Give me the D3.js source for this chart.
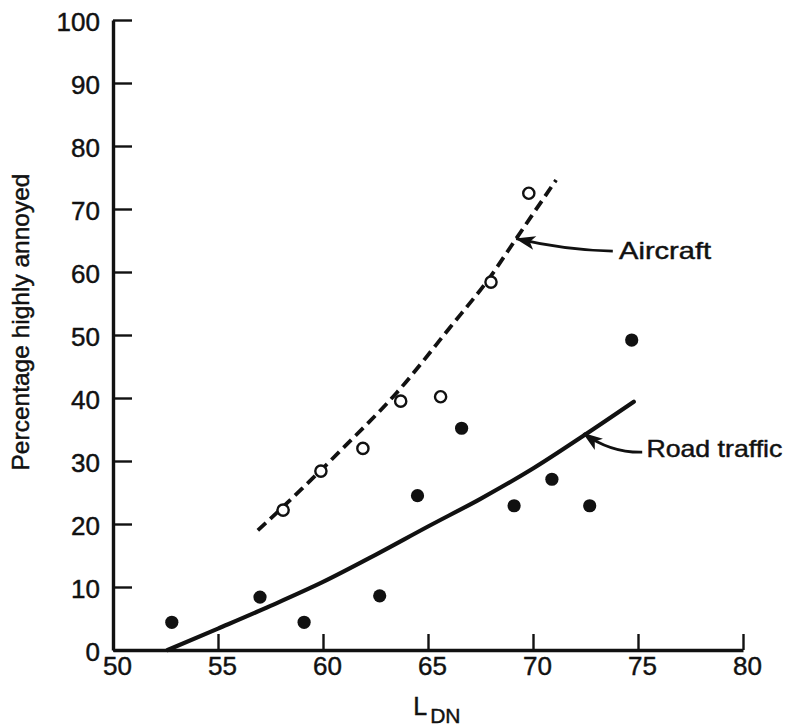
<!DOCTYPE html>
<html>
<head>
<meta charset="utf-8">
<script src="https://cdn.jsdelivr.net/npm/d3@7"></script>
<style>
  body { margin: 0; background: #fff; }
  svg text { font-family: "Liberation Sans", Arial, sans-serif; fill: #111; stroke: #111; stroke-width: 0.45px; }
</style>
</head>
<body>
<svg id="chart" width="785" height="727"></svg>
<script>
// aircraft survey points (open circles)
const aircraftX = [58.1, 59.9, 61.9, 63.7, 65.6, 68.0, 69.8];
const aircraftY = [22.2, 28.4, 32.0, 39.5, 40.2, 58.4, 72.5];

// road traffic survey points (filled dots)
const roadX = [52.8, 57.0, 59.1, 62.7, 64.5, 66.6, 69.1, 70.9, 72.7, 74.7];
const roadY = [4.4, 8.4, 4.4, 8.6, 24.5, 35.2, 22.9, 27.1, 22.9, 49.2];

// fitted curves
const aircraftFitX = [56.9, 59.0, 61.0, 63.5, 66.0, 68.0, 69.2, 71.1];
const aircraftFitY = [19.0, 25.6, 32.2, 40.8, 51.0, 59.4, 65.3, 74.6];
const roadFitX = [52.6, 55.0, 57.5, 60.0, 62.5, 65.0, 67.5, 70.0, 72.4, 74.8];
const roadFitY = [0.0, 3.4, 7.0, 10.8, 15.1, 19.6, 24.0, 28.8, 34.0, 39.4];

// axes
const xTicks = [50, 55, 60, 65, 70, 75, 80];
const yTicks = [0, 10, 20, 30, 40, 50, 60, 70, 80, 90, 100];

// callouts: tip on the curve, tail, label start
const notes = [
  { text: "Aircraft", tip: [69.2, 65.3], tail: [73.8, 63.3], ctrl: [71.5, 63.5], at: [74.1, 62.0], len: 92 },
  { text: "Road traffic", tip: [72.4, 34.4], tail: [75.2, 31.4], ctrl: [73.7, 31.3], at: [75.4, 30.6], len: 136 }
];

const svg = d3.select("#chart");

const x = d3.scaleLinear().domain([50, 80]).range([113, 743]);
const y = d3.scaleLinear().domain([0, 100]).range([650, 20]);

// y axis
const yAxis = svg.append("g")
  .attr("transform", `translate(${x(50)},0)`)
  .call(d3.axisLeft(y).tickValues(yTicks).tickSize(-19).tickSizeOuter(0).tickPadding(13));
yAxis.select(".domain").attr("stroke", "#111").attr("stroke-width", 3.4);
yAxis.selectAll(".tick line").attr("stroke", "#111").attr("stroke-width", 2.4);
yAxis.selectAll(".tick text")
  .style("font-size", "26px")
  .attr("dy", "0.42em")
  .attr("fill", "#111");

// x axis
const xAxis = svg.append("g")
  .attr("transform", `translate(0,${y(0)})`)
  .call(d3.axisBottom(x).tickValues(xTicks).tickSize(-16).tickSizeOuter(0).tickPadding(7));
xAxis.select(".domain").attr("stroke", "#111").attr("stroke-width", 3.4);
xAxis.selectAll(".tick line").attr("stroke", "#111").attr("stroke-width", 2.4);
xAxis.selectAll(".tick text")
  .style("font-size", "26px")
  .attr("dx", 4)
  .attr("fill", "#111");

// axis titles
svg.append("text")
  .attr("transform", `translate(29,${(y(0) + y(100)) / 2 - 13}) rotate(-90)`)
  .attr("text-anchor", "middle")
  .style("font-size", "24.5px")
  .text("Percentage highly annoyed");

const xt = svg.append("text")
  .attr("x", x(64.3))
  .attr("y", 715)
  .style("font-size", "25px")
  .text("L");
xt.append("tspan")
  .attr("dx", 3)
  .attr("dy", 8)
  .style("font-size", "21px")
  .text("DN");

// fitted curves
const line = d3.line()
  .x(d => x(d[0]))
  .y(d => y(d[1]))
  .curve(d3.curveMonotoneX);

svg.append("path")
  .datum(roadFitX.map((v, i) => [v, roadFitY[i]]))
  .attr("d", line)
  .attr("fill", "none")
  .attr("stroke", "#111")
  .attr("stroke-width", 4.2)
  .attr("stroke-linecap", "round");

svg.append("path")
  .datum(aircraftFitX.map((v, i) => [v, aircraftFitY[i]]))
  .attr("d", line)
  .attr("fill", "none")
  .attr("stroke", "#111")
  .attr("stroke-width", 3.8)
  .attr("stroke-dasharray", "11,6");

// points
svg.append("g")
  .selectAll("circle")
  .data(roadX.map((v, i) => [v, roadY[i]]))
  .enter()
  .append("circle")
  .attr("cx", d => x(d[0]))
  .attr("cy", d => y(d[1]))
  .attr("r", 6.6)
  .attr("fill", "#111");

svg.append("g")
  .selectAll("circle")
  .data(aircraftX.map((v, i) => [v, aircraftY[i]]))
  .enter()
  .append("circle")
  .attr("cx", d => x(d[0]))
  .attr("cy", d => y(d[1]))
  .attr("r", 5.6)
  .attr("fill", "#fff")
  .attr("stroke", "#111")
  .attr("stroke-width", 2.4);

// callout arrows
svg.append("defs").append("marker")
  .attr("id", "head")
  .attr("viewBox", "0 0 20 14")
  .attr("refX", 19)
  .attr("refY", 7)
  .attr("markerWidth", 22)
  .attr("markerHeight", 14)
  .attr("markerUnits", "userSpaceOnUse")
  .attr("orient", "auto")
  .append("path")
  .attr("d", "M0,0 L20,7 L0,14 L5,7 Z")
  .attr("fill", "#111");

notes.forEach(n => {
  svg.append("path")
    .attr("d", `M${x(n.tail[0])},${y(n.tail[1])} Q${x(n.ctrl[0])},${y(n.ctrl[1])} ${x(n.tip[0])},${y(n.tip[1])}`)
    .attr("fill", "none")
    .attr("stroke", "#111")
    .attr("stroke-width", 2.8)
    .attr("marker-end", "url(#head)");
  svg.append("text")
    .attr("x", x(n.at[0]))
    .attr("y", y(n.at[1]))
    .attr("textLength", n.len)
    .attr("lengthAdjust", "spacingAndGlyphs")
    .style("font-size", "24px")
    .text(n.text);
});
</script>
</body>
</html>
